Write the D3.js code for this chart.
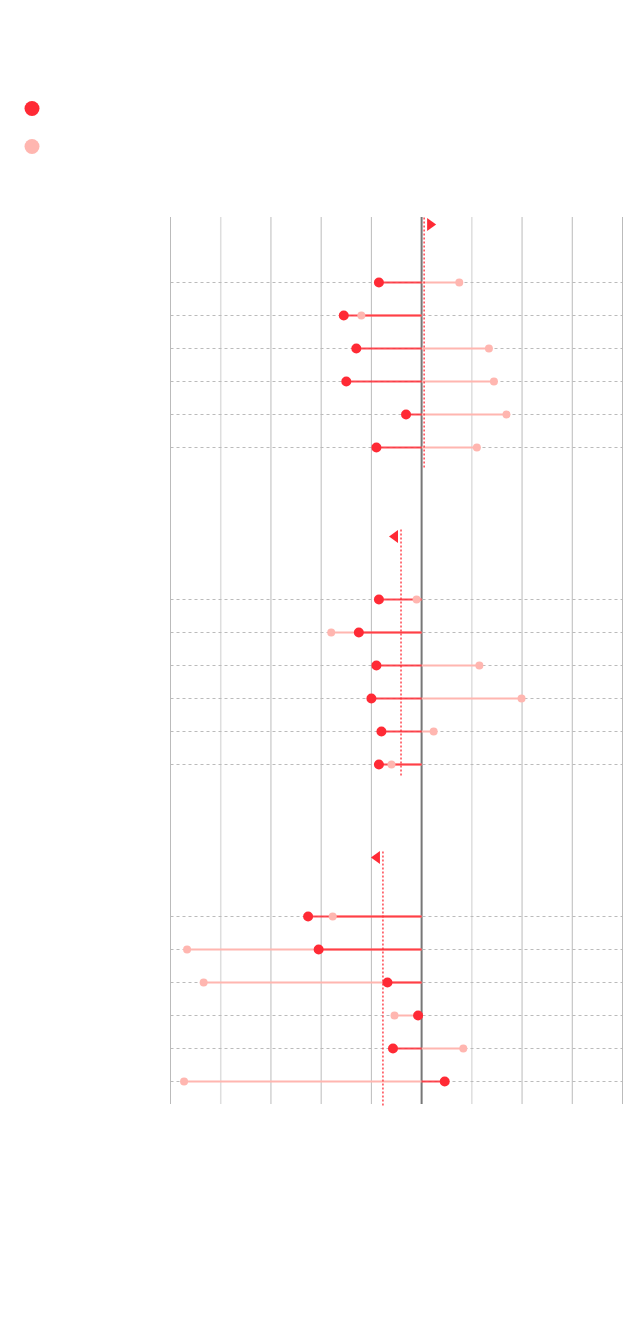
<!DOCTYPE html>
<html>
<head>
<meta charset="utf-8">
<script src="https://cdn.jsdelivr.net/npm/d3@7"></script>
<style>
  html, body { margin: 0; padding: 0; background: #fff; }
  svg { display: block; font-family: "Noto Sans", sans-serif; }
</style>
</head>
<body>
<svg id="chart" width="640" height="1320"></svg>
<script>
// ---- data ----
const ticks = [-5, -4, -3, -2, -1, 0, 1, 2, 3, 4];
const panels = ["A", "B", "C"];
const rowsPerPanel = [0, 1, 2, 3, 4, 5];
const darkA  = [-0.85, -1.55, -1.30, -1.50, -0.31, -0.90];
const lightA = [ 0.75, -1.20,  1.34,  1.44,  1.69,  1.10];
const darkB  = [-0.85, -1.25, -0.90, -1.00, -0.80, -0.85];
const lightB = [-0.10, -1.80,  1.15,  1.99,  0.24, -0.60];
const darkC  = [-2.26, -2.05, -0.68, -0.07, -0.57,  0.46];
const lightC = [-1.77, -4.67, -4.34, -0.54,  0.83, -4.73];
const means  = [0.05, -0.41, -0.77];

const darkVals = [darkA, darkB, darkC];
const lightVals = [lightA, lightB, lightC];

// ---- styles ----
const DARK = "#ff2a35";
const LIGHT = "#ffb6b0";

const svg = d3.select("#chart");

const x = d3.scaleLinear().domain([-5, 4]).range([170.5, 622.5]);
const panelY = d3.scaleLinear().domain([0, 2]).range([282.5, 916.5]);
const rowY = d3.scaleLinear().domain([0, 5]).range([0, 165]);
const markerOffset = [58, 63, 59];
const lineTopOffset = [65, 70, 65];
const lineBottomOffset = [21, 13, 24];

// legend
svg.append("circle").attr("cx", 32).attr("cy", 108.5).attr("r", 7.5).attr("fill", DARK);
svg.append("circle").attr("cx", 32).attr("cy", 146.5).attr("r", 7.5).attr("fill", LIGHT);

// vertical gridlines
const gridTop = 217, gridBottom = 1104;
svg.append("g").selectAll("line").data(ticks).join("line")
  .attr("x1", d => x(d)).attr("x2", d => x(d))
  .attr("y1", gridTop).attr("y2", gridBottom)
  .attr("stroke", d => d === 0 ? "#777" : (d === -4 || d === 1) ? "#dedede" : "#bbb")
  .attr("stroke-width", d => d === 0 ? 2 : (d === -4 || d === 1) ? 1.5 : 1);

panels.forEach((p, pi) => {
  const g = svg.append("g");
  const y0 = panelY(pi);
  const dk = darkVals[pi], lt = lightVals[pi];

  // horizontal dashed row lines
  g.selectAll("line.row").data(rowsPerPanel).join("line")
    .attr("class", "row")
    .attr("x1", x(-5)).attr("x2", x(4))
    .attr("y1", i => y0 + rowY(i)).attr("y2", i => y0 + rowY(i))
    .attr("stroke", "#bbb").attr("stroke-width", 1)
    .attr("stroke-dasharray", "3,3");

  // light segments
  g.selectAll("line.lt").data(rowsPerPanel).join("line")
    .attr("class", "lt")
    .attr("x1", x(0)).attr("x2", i => x(lt[i]))
    .attr("y1", i => y0 + rowY(i)).attr("y2", i => y0 + rowY(i))
    .attr("stroke", LIGHT).attr("stroke-width", 2);

  // dark segments
  g.selectAll("line.dk").data(rowsPerPanel).join("line")
    .attr("class", "dk")
    .attr("x1", x(0)).attr("x2", i => x(dk[i]))
    .attr("y1", i => y0 + rowY(i)).attr("y2", i => y0 + rowY(i))
    .attr("stroke", DARK).attr("stroke-width", 2)
    .attr("stroke-opacity", 0.85);

  // mean line
  const m = means[pi];
  g.append("line")
    .attr("x1", x(m)).attr("x2", x(m))
    .attr("y1", y0 - lineTopOffset[pi]).attr("y2", y0 + rowY(5) + lineBottomOffset[pi])
    .attr("stroke", DARK).attr("stroke-width", 1.3)
    .attr("stroke-dasharray", "2,2");

  // triangle marker
  const ty = y0 - markerOffset[pi];
  const dir = m >= 0 ? 1 : -1;
  const bx = x(m) + dir * 3;
  g.append("path")
    .attr("d", `M${bx},${ty - 6.5} L${bx + dir * 9},${ty} L${bx},${ty + 6.5} Z`)
    .attr("fill", DARK);

  // light dots
  g.selectAll("circle.lt").data(rowsPerPanel).join("circle")
    .attr("class", "lt")
    .attr("cx", i => x(lt[i])).attr("cy", i => y0 + rowY(i))
    .attr("r", 4).attr("fill", LIGHT);

  // dark dots
  g.selectAll("circle.dk").data(rowsPerPanel).join("circle")
    .attr("class", "dk")
    .attr("cx", i => x(dk[i])).attr("cy", i => y0 + rowY(i))
    .attr("r", 5).attr("fill", DARK);
});
</script>
</body>
</html>
